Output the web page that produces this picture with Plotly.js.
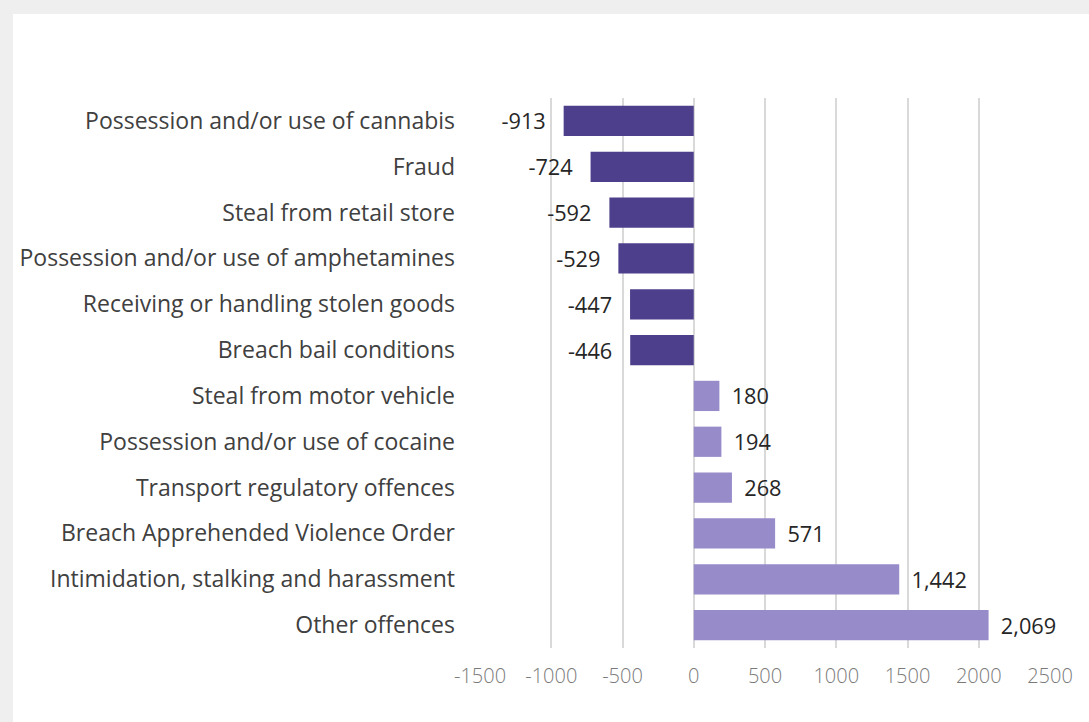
<!DOCTYPE html>
<html>
<head>
<meta charset="utf-8">
<script src="https://cdn.plot.ly/plotly-3.0.1.min.js"></script>
<style>
  html, body { margin: 0; padding: 0; background: #efefef; }
  #wrap { position: absolute; left: 13px; top: 14px; width: 1076px; height: 708px; background: #ffffff; }
  #chart { position: absolute; left: 0; top: 0; width: 1089px; height: 722px; }
</style>
</head>
<body>
<div id="wrap"></div>
<div id="chart"></div>
<script>
const categories = [
  "Possession and/or use of cannabis",
  "Fraud",
  "Steal from retail store",
  "Possession and/or use of amphetamines",
  "Receiving or handling stolen goods",
  "Breach bail conditions",
  "Steal from motor vehicle",
  "Possession and/or use of cocaine",
  "Transport regulatory offences",
  "Breach Apprehended Violence Order",
  "Intimidation, stalking and harassment",
  "Other offences"
];
const values = [-913, -724, -592, -529, -447, -446, 180, 194, 268, 571, 1442, 2069];
const tickValues = [-1500, -1000, -500, 0, 500, 1000, 1500, 2000, 2500];
const tickLabels = ["-1500", "-1000", "-500", "0", "500", "1000", "1500", "2000", "2500"];

const negColor = "#4e3f8c";
const posColor = "#978bca";
const padNeg = "\u00A0\u00A0\u2009";
const padPos = "\u00A0\u2009";

const labels = values.map(v => {
  const s = v < 0 ? "-" + Math.abs(v).toLocaleString("en-US") : v.toLocaleString("en-US");
  return v < 0 ? s + padNeg : padPos + s;
});

const trace = {
  type: "bar",
  orientation: "h",
  y: categories,
  x: values,
  text: labels,
  textposition: "outside",
  cliponaxis: false,
  textfont: { family: "Open Sans, Noto Sans, sans-serif", size: 23, color: "#262626" },
  marker: { color: values.map(v => v < 0 ? negColor : posColor) },
  hoverinfo: "none"
};

const layout = {
  width: 1089,
  height: 722,
  paper_bgcolor: "rgba(0,0,0,0)",
  plot_bgcolor: "rgba(0,0,0,0)",
  margin: { l: 480, r: 39, t: 98, b: 74 },
  bargap: 0.34,
  showlegend: false,
  xaxis: {
    range: [-1500, 2500],
    tickvals: tickValues,
    ticktext: tickLabels,
    showgrid: true,
    gridcolor: "#d9d9d9",
    gridwidth: 2,
    zeroline: false,
    showline: false,
    ticks: "",
    tickfont: { family: "Open Sans, sans-serif", size: 20, color: "#7a7a7a", weight: 300 },
    ticklabelstandoff: 14,
    fixedrange: true
  },
  yaxis: {
    autorange: "reversed",
    showgrid: false,
    zeroline: false,
    showline: false,
    ticks: "",
    ticklabelstandoff: 24,
    tickfont: { family: "Open Sans, Noto Sans, sans-serif", size: 23, color: "#404040" },
    fixedrange: true
  }
};

Plotly.newPlot("chart", [trace], layout, { displayModeBar: false, staticPlot: true });
</script>
</body>
</html>
